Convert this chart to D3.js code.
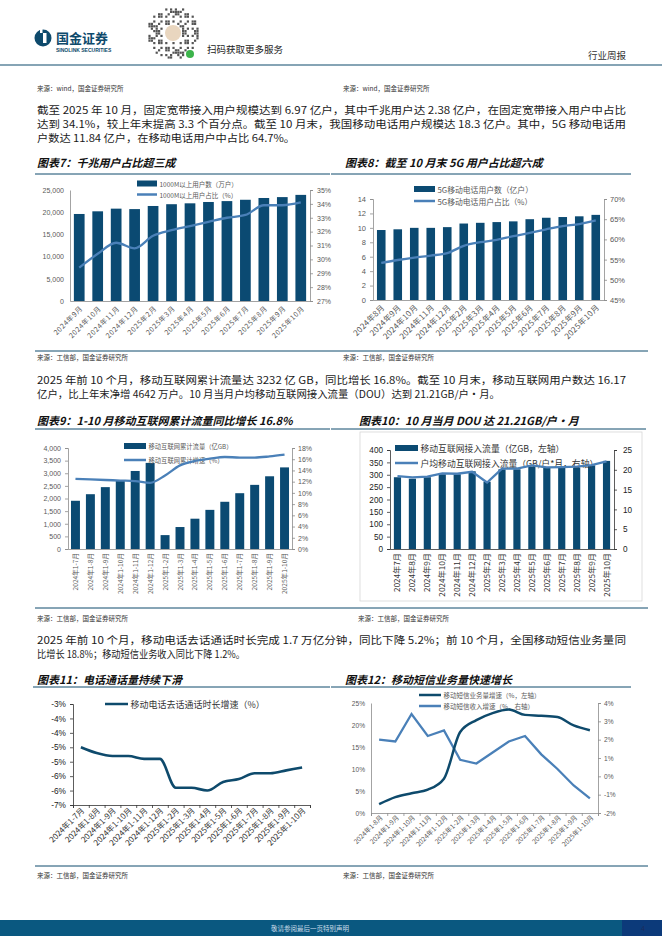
<!DOCTYPE html>
<html>
<head>
<meta charset="utf-8">
<script src="https://cdn.jsdelivr.net/npm/d3@7"></script>
<style>
  body { margin: 0; background: #fff; }
  svg { display: block; }
</style>
</head>
<body>
<div id="page"></div>
<script>
// ---- chart data ----
const c7Labels = ["2024年9月","2024年10月","2024年11月","2024年12月","2025年2月","2025年3月","2025年4月","2025年5月","2025年6月","2025年7月","2025年8月","2025年9月","2025年10月"];
const c7Users = [19600,20200,20800,20700,21400,21800,22000,22300,22500,22800,23200,23400,23900];
const c7Share = [29.4,30.4,31.2,30.8,31.7,32.1,32.4,32.7,33.0,33.2,33.9,33.9,34.1];

const c8Labels = ["2024年8月","2024年9月","2024年10月","2024年11月","2024年12月","2025年2月","2025年3月","2025年4月","2025年5月","2025年6月","2025年7月","2025年8月","2025年9月","2025年10月"];
const c8Users = [9.7,9.8,10.0,10.0,10.1,10.6,10.7,10.8,10.9,11.2,11.4,11.5,11.6,11.8];
const c8Share = [54.2,54.9,55.5,56.0,56.6,58.4,59.3,59.9,60.8,61.6,62.5,63.3,63.8,64.7];

const c9Labels = ["2024年1-7月","2024年1-8月","2024年1-9月","2024年1-10月","2024年1-11月","2024年1-12月","2025年1-2月","2025年1-3月","2025年1-4月","2025年1-5月","2025年1-6月","2025年1-7月","2025年1-8月","2025年1-9月","2025年1-10月"];
const c9Traffic = [1910,2170,2450,2720,3090,3410,550,870,1200,1550,1870,2210,2540,2880,3232];
const c9Growth = [12.5,12.4,12.3,12.2,12.1,11.8,13.1,14.9,15.7,16.1,16.4,16.3,16.3,16.5,16.8];

const c10Labels = ["2024年7月","2024年8月","2024年9月","2024年10月","2024年11月","2024年12月","2025年2月","2025年3月","2025年4月","2025年5月","2025年6月","2025年7月","2025年8月","2025年9月","2025年10月"];
const c10Traffic = [290,284,290,302,302,314,272,322,322,333,329,329,329,338,356];
const c10Dou = [18.4,18.1,18.3,19.1,19.0,19.5,16.8,20.3,20.3,21.1,20.6,20.7,20.8,21.2,22.1];

const c11Labels = ["2024年1-7月","2024年1-8月","2024年1-9月","2024年1-10月","2024年1-11月","2024年1-12月","2025年1-2月","2025年1-3月","2025年1-4月","2025年1-5月","2025年1-6月","2025年1-7月","2025年1-8月","2025年1-9月","2025年1-10月"];
const c11Growth = [-4.5,-4.7,-4.8,-4.8,-4.9,-4.9,-5.9,-5.9,-6.0,-5.7,-5.6,-5.4,-5.4,-5.3,-5.2];

const c12Labels = ["2024年1-8月","2024年1-9月","2024年1-10月","2024年1-11月","2024年1-12月","2025年1-2月","2025年1-3月","2025年1-4月","2025年1-5月","2025年1-6月","2025年1-7月","2025年1-8月","2025年1-9月","2025年1-10月"];
const c12Volume = [2.0,3.6,4.5,5.3,7.8,18.4,21.1,22.7,23.5,22.3,22.1,21.8,19.9,18.8];
const c12Revenue = [2.0,1.9,3.4,2.2,2.5,0.9,0.7,1.3,1.9,2.2,1.2,0.4,-0.5,-1.2];

// ---- page setup ----
const W = 662, H = 936;
const NAVY = "#0b4a72", LINE = "#4a80b8", DARK = "#0e4a6c";
const SANS = "'Noto Sans CJK SC','Noto Sans',sans-serif";
const NUM = "'Liberation Sans',Arial,sans-serif";

const svg = d3.select("#page").append("svg")
  .attr("width", W).attr("height", H)
  .attr("viewBox", [0, 0, W, H]);

function txt(x, y, s, size, o = {}) {
  const t = svg.append("text")
    .attr("x", x).attr("y", y)
    .attr("font-size", size)
    .attr("font-family", o.family || SANS)
    .attr("fill", o.fill || "#222")
    .text(s);
  if (o.anchor) t.attr("text-anchor", o.anchor);
  if (o.weight) t.attr("font-weight", o.weight);
  if (o.italic) t.attr("font-style", "italic");
  if (o.mid) t.attr("dominant-baseline", "central");
  if (o.len) t.attr("textLength", o.len).attr("lengthAdjust", "spacingAndGlyphs");
  return t;
}

function hline(x1, x2, y, color, w) {
  svg.append("line").attr("x1", x1).attr("x2", x2).attr("y1", y).attr("y2", y)
    .attr("stroke", color).attr("stroke-width", w);
}

// ---- header ----
svg.append("circle").attr("cx", 43).attr("cy", 38).attr("r", 8.5).attr("fill", DARK);
svg.append("rect").attr("x", 43).attr("y", 33).attr("width", 3.5).attr("height", 10).attr("fill", "#fff");
svg.append("rect").attr("x", 40).attr("y", 29).attr("width", 2.5).attr("height", 4).attr("fill", "#fff");
txt(56, 43, "国金证券", 13, { weight: 700, fill: DARK });
txt(56, 52, "SINOLINK SECURITIES", 5, { weight: 700, fill: DARK, family: NUM });

// QR-like decoration
const qr = svg.append("g");
for (let i = 0; i < 22; i++) {
  for (let j = 0; j < 22; j++) {
    const cx = 146 + i * 2.4, cy = 6 + j * 2.4;
    const dd = Math.hypot(cx - 172, cy - 32);
    if (dd < 26 && dd > 10 && ((i * 31 + j * 17 + i * j * 7) % 11) < 5)
      qr.append("rect").attr("x", cx).attr("y", cy).attr("width", 2.2).attr("height", 2.2).attr("fill", "#555");
  }
}
qr.append("circle").attr("cx", 173).attr("cy", 33).attr("r", 8).attr("fill", "#e9d6bf");
qr.append("circle").attr("cx", 190).attr("cy", 54).attr("r", 4).attr("fill", "#3cb44b");
txt(207, 53, "扫码获取更多服务", 9.5, { fill: "#222" });
txt(626, 59, "行业周报", 9.5, { anchor: "end", fill: "#333" });
hline(0, W, 65, DARK, 1.2);

// ---- paragraphs ----
const PF = 10.3, PC = "#1a1a1a";
txt(37, 91, "来源：wind，国金证券研究所", 6.5, { fill: "#333" });
txt(343, 91, "来源：wind，国金证券研究所", 6.5, { fill: "#333" });
txt(37, 114, "截至 2025 年 10 月，固定宽带接入用户规模达到 6.97 亿户，其中千兆用户达 2.38 亿户，在固定宽带接入用户中占比", PF, { fill: PC, len: 589 });
txt(37, 128, "达到 34.1%，较上年末提高 3.3 个百分点。截至 10 月末，我国移动电话用户规模达 18.3 亿户。其中，5G 移动电话用", PF, { fill: PC, len: 589 });
txt(37, 142, "户数达 11.84 亿户，在移动电话用户中占比 64.7%。", PF, { fill: PC, len: 258 });

txt(37, 167, "图表7：千兆用户占比超三成", 11, { weight: 700, italic: true, fill: "#111" });
txt(345, 167, "图表8：截至 10 月末 5G 用户占比超六成", 11, { weight: 700, italic: true, fill: "#111" });
hline(35, 330, 174, DARK, 1);
hline(331, 631, 174, DARK, 1);

hline(35, 648, 351, DARK, 1);
txt(37, 360, "来源：工信部，国金证券研究所", 6.5, { fill: "#333" });
txt(343, 360, "来源：工信部，国金证券研究所", 6.5, { fill: "#333" });
txt(37, 384, "2025 年前 10 个月，移动互联网累计流量达 3232 亿 GB，同比增长 16.8%。截至 10 月末，移动互联网用户数达 16.17", PF, { fill: PC, len: 589 });
txt(37, 398, "亿户，比上年末净增 4642 万户。10 月当月户均移动互联网接入流量（DOU）达到 21.21GB/户·月。", PF, { fill: PC, len: 463 });

txt(37, 425, "图表9：1-10 月移动互联网累计流量同比增长 16.8%", 11, { weight: 700, italic: true, fill: "#111" });
txt(359, 425, "图表10：10 月当月 DOU 达 21.21GB/户·月", 11, { weight: 700, italic: true, fill: "#111" });
hline(35, 330, 429, DARK, 1);
hline(331, 646, 429, DARK, 1);

hline(35, 648, 608, DARK, 1);
txt(37, 621, "来源：工信部，国金证券研究所", 6.5, { fill: "#333" });
txt(358, 621, "来源：工信部，国金证券研究所", 6.5, { fill: "#333" });
txt(37, 644, "2025 年前 10 个月，移动电话去话通话时长完成 1.7 万亿分钟，同比下降 5.2%；前 10 个月，全国移动短信业务量同", PF, { fill: PC, len: 589 });
txt(37, 658, "比增长 18.8%；移动短信业务收入同比下降 1.2%。", PF, { fill: PC, len: 208 });

txt(37, 684, "图表11：电话通话量持续下滑", 11, { weight: 700, italic: true, fill: "#111" });
txt(345, 684, "图表12：移动短信业务量快速增长", 11, { weight: 700, italic: true, fill: "#111" });
hline(33, 330, 687, DARK, 1);
hline(331, 631, 687, DARK, 1);

hline(35, 648, 866, DARK, 1);
txt(37, 878, "来源：工信部，国金证券研究所", 6.5, { fill: "#333" });
txt(343, 878, "来源：工信部，国金证券研究所", 6.5, { fill: "#333" });

// footer band
svg.append("rect").attr("x", 0).attr("y", 920).attr("width", W).attr("height", 16).attr("fill", "#0a5880");
svg.append("rect").attr("x", 622).attr("y", 920).attr("width", 40).attr("height", 16).attr("fill", "#0c3a7a");
txt(310, 931, "敬请参阅最后一页特别声明", 6.5, { anchor: "middle", fill: "#c9dbe8" });
txt(643, 931, "4", 7, { anchor: "middle", fill: "#1c2c5c", family: NUM });

// chart 10 frame
svg.append("rect").attr("x", 360).attr("y", 432).attr("width", 282).attr("height", 169)
  .attr("fill", "none").attr("stroke", "#d6d6d6").attr("stroke-width", 0.8);

// ---- helpers ----
function styleAxis(g, o) {
  g.select(".domain").attr("stroke", o.axisColor || "#8c8c8c").attr("stroke-width", 0.8);
  g.selectAll(".tick line").attr("stroke", o.axisColor || "#8c8c8c").attr("stroke-width", 0.8);
  g.selectAll(".tick text").attr("fill", o.textColor || "#595959")
    .attr("font-size", o.fs || 7).attr("font-family", NUM);
}

function xLabels(g, labels, cx, o) {
  g.append("g").selectAll("text").data(labels).join("text")
    .attr("transform", d => `translate(${cx(d) + o.dx},${o.y}) rotate(${o.rot})`)
    .attr("text-anchor", "end")
    .attr("font-size", o.fs)
    .attr("font-family", o.family || SANS)
    .attr("letter-spacing", o.ls || 0)
    .attr("fill", o.fill || "#595959")
    .text(d => d);
}

function legendBar(g, x, y, label, o) {
  g.append("rect").attr("x", x).attr("y", y - 3).attr("width", o.w).attr("height", 6).attr("fill", NAVY);
  g.append("text").attr("x", x + o.w + 2.5).attr("y", y).attr("dominant-baseline", "central")
    .attr("font-size", o.fs).attr("font-family", SANS).attr("fill", o.fill || "#595959").text(label);
}

function legendLine(g, x, y, label, color, o) {
  g.append("line").attr("x1", x).attr("x2", x + o.w).attr("y1", y).attr("y2", y)
    .attr("stroke", color).attr("stroke-width", 2.5);
  g.append("text").attr("x", x + o.w + 2.5).attr("y", y).attr("dominant-baseline", "central")
    .attr("font-size", o.fs).attr("font-family", SANS).attr("fill", o.fill || "#595959").text(label);
}

function barLineChart(o) {
  const g = svg.append("g");
  const x = d3.scaleBand().domain(o.labels).range([o.left, o.right])
    .paddingInner(o.pad).paddingOuter(o.pad / 2);
  const yL = d3.scaleLinear().domain(o.leftDomain).range([o.bottom, o.top]);
  const yR = d3.scaleLinear().domain(o.rightDomain).range([o.bottom, o.top]);
  const cx = d => x(d) + x.bandwidth() / 2;

  g.append("g").selectAll("rect").data(o.bars).join("rect")
    .attr("x", (d, i) => x(o.labels[i]))
    .attr("y", d => yL(d))
    .attr("width", x.bandwidth())
    .attr("height", d => o.bottom - yL(d))
    .attr("fill", NAVY);

  const axL = g.append("g").attr("transform", `translate(${o.left},0)`)
    .call(d3.axisLeft(yL).tickValues(o.leftTicks).tickFormat(o.leftFmt).tickSizeOuter(0)
      .tickSize(o.tickL).tickPadding(o.padL));
  styleAxis(axL, o);
  const axR = g.append("g").attr("transform", `translate(${o.right},0)`)
    .call(d3.axisRight(yR).tickValues(o.rightTicks).tickFormat(o.rightFmt).tickSizeOuter(0)
      .tickSize(o.tickR).tickPadding(o.padR));
  styleAxis(axR, o);
  const axB = g.append("g").attr("transform", `translate(0,${o.bottom})`)
    .call(d3.axisBottom(x).tickSize(0).tickFormat(""));
  styleAxis(axB, o);

  legendBar(g, o.legX, o.legY1, o.barName, o.leg);
  legendLine(g, o.legX, o.legY2, o.lineName, LINE, o.leg);

  const line = d3.line().x((d, i) => cx(o.labels[i])).y(d => yR(d)).curve(o.curve);
  g.append("path").attr("d", line(o.line)).attr("fill", "none")
    .attr("stroke", LINE).attr("stroke-width", 2.3);

  xLabels(g, o.labels, cx, o.xl);
}

// ---- chart 7 ----
barLineChart({
  labels: c7Labels, bars: c7Users, line: c7Share,
  left: 70, right: 310, top: 190, bottom: 301, pad: 0.42,
  leftDomain: [0, 25000], leftTicks: d3.range(0, 25001, 5000), leftFmt: d3.format(","),
  rightDomain: [27, 35], rightTicks: d3.range(27, 36, 1), rightFmt: d => d + "%",
  tickL: 0, padL: 6, tickR: 3, padR: 4, fs: 7,
  legX: 137, legY1: 183.5, legY2: 194.5,
  barName: "1000M以上用户数（万户）", lineName: "1000M以上用户占比（%）",
  leg: { w: 20, fs: 6.5 },
  curve: d3.curveMonotoneX,
  xl: { rot: -45, dx: 4, y: 309, fs: 7, ls: 0.6 }
});

// ---- chart 8 ----
barLineChart({
  labels: c8Labels, bars: c8Users, line: c8Share,
  left: 373, right: 604, top: 199, bottom: 300, pad: 0.48,
  leftDomain: [0, 14], leftTicks: d3.range(0, 15, 2), leftFmt: d => d,
  rightDomain: [45, 70], rightTicks: d3.range(45, 71, 5), rightFmt: d => d + "%",
  tickL: 3, padL: 4, tickR: 3, padR: 3, fs: 7.5,
  legX: 414, legY1: 189, legY2: 201,
  barName: "5G移动电话用户数（亿户）", lineName: "5G移动电话用户占比（%）",
  leg: { w: 21, fs: 7.8 },
  curve: d3.curveMonotoneX,
  xl: { rot: -45, dx: 4, y: 308, fs: 8, ls: 0.3 }
});

// ---- chart 9 ----
barLineChart({
  labels: c9Labels, bars: c9Traffic, line: c9Growth,
  left: 68, right: 292, top: 448, bottom: 549, pad: 0.4,
  leftDomain: [0, 4000], leftTicks: d3.range(0, 4001, 500), leftFmt: d3.format(","),
  rightDomain: [0, 18], rightTicks: d3.range(0, 19, 2), rightFmt: d => d + "%",
  tickL: 3, padL: 4, tickR: 3, padR: 3, fs: 7,
  legX: 124, legY1: 446, legY2: 460,
  barName: "移动互联网累计流量（亿GB）", lineName: "移动互联网累计增速（%）",
  leg: { w: 22, fs: 6.3 },
  curve: d3.curveMonotoneX,
  xl: { rot: -90, dx: 2.5, y: 553, fs: 6.6 }
});

// ---- chart 10 ----
barLineChart({
  labels: c10Labels, bars: c10Traffic, line: c10Dou,
  left: 390, right: 614, top: 450, bottom: 549, pad: 0.52,
  leftDomain: [0, 400], leftTicks: d3.range(0, 401, 50), leftFmt: d => d,
  rightDomain: [0, 25], rightTicks: d3.range(0, 26, 5), rightFmt: d => d,
  tickL: 3, padL: 4, tickR: 3, padR: 6, fs: 8.2, axisColor: "#333", textColor: "#222",
  legX: 395, legY1: 448, legY2: 463,
  barName: "移动互联网接入流量（亿GB，左轴）", lineName: "户均移动互联网接入流量（GB/户*月，右轴）",
  leg: { w: 23, fs: 8.8, fill: "#333" },
  curve: d3.curveLinear,
  xl: { rot: -90, dx: 3, y: 553, fs: 8.2, fill: "#333" }
});

// ---- chart 11 ----
(function () {
  const g = svg.append("g");
  const left = 73, right = 310, top = 704, bottom = 805;
  const x = d3.scaleBand().domain(c11Labels).range([left, right]);
  const xb = d3.scaleLinear().domain([0, c11Labels.length]).range([left, right]);
  const y = d3.scaleLinear().domain([-6.5, -3]).range([bottom, top]);
  const cx = d => x(d) + x.bandwidth() / 2;
  const fmt = v => (v < 0 ? -Math.round(-v) : Math.round(v)) + "%";

  const axL = g.append("g").attr("transform", `translate(${left},0)`)
    .call(d3.axisLeft(y).tickValues(d3.range(-6.5, -2.99, 0.5)).tickFormat(fmt).tickSizeOuter(0).tickSize(3).tickPadding(4));
  styleAxis(axL, { axisColor: "#333", textColor: "#222", fs: 8.3 });
  const axB = g.append("g").attr("transform", `translate(0,${bottom})`)
    .call(d3.axisBottom(xb).tickValues(d3.range(0, c11Labels.length + 1)).tickFormat("").tickSizeOuter(0).tickSize(3));
  styleAxis(axB, { axisColor: "#333" });

  legendLine(g, 105, 704, "移动电话去话通话时长增速（%）", DARK, { w: 23, fs: 9, fill: "#333" });

  const line = d3.line().x((d, i) => cx(c11Labels[i])).y(d => y(d)).curve(d3.curveMonotoneX);
  g.append("path").attr("d", line(c11Growth)).attr("fill", "none")
    .attr("stroke", DARK).attr("stroke-width", 2.6);

  xLabels(g, c11Labels, cx, { rot: -45, dx: 4, y: 811, fs: 8, fill: "#333" });
})();

// ---- chart 12 ----
(function () {
  const g = svg.append("g");
  const left = 371, right = 598, top = 703, bottom = 813;
  const x = d3.scaleBand().domain(c12Labels).range([left, right]);
  const xb = d3.scaleLinear().domain([0, c12Labels.length]).range([left, right]);
  const yL = d3.scaleLinear().domain([0, 25]).range([bottom, top]);
  const yR = d3.scaleLinear().domain([-2, 4]).range([bottom, top]);
  const cx = d => x(d) + x.bandwidth() / 2;

  const axL = g.append("g").attr("transform", `translate(${left},0)`)
    .call(d3.axisLeft(yL).tickValues(d3.range(0, 26, 5)).tickFormat(d => d + "%").tickSizeOuter(0).tickSize(0).tickPadding(6));
  styleAxis(axL, { fs: 6.6 });
  const axR = g.append("g").attr("transform", `translate(${right},0)`)
    .call(d3.axisRight(yR).tickValues(d3.range(-2, 5, 1)).tickFormat(d => d + "%").tickSizeOuter(0).tickSize(3).tickPadding(3));
  styleAxis(axR, { fs: 6.6 });
  const axB = g.append("g").attr("transform", `translate(0,${bottom})`)
    .call(d3.axisBottom(xb).tickValues(d3.range(0, c12Labels.length + 1)).tickFormat("").tickSizeOuter(0).tickSize(3));
  styleAxis(axB, {});

  legendLine(g, 419, 695, "移动短信业务量增速（%，左轴）", DARK, { w: 22, fs: 6.5 });
  legendLine(g, 419, 706, "移动短信收入增速（%，右轴）", LINE, { w: 22, fs: 6.5 });

  const lineL = d3.line().x((d, i) => cx(c12Labels[i])).y(d => yL(d)).curve(d3.curveMonotoneX);
  const lineR = d3.line().x((d, i) => cx(c12Labels[i])).y(d => yR(d)).curve(d3.curveLinear);
  g.append("path").attr("d", lineR(c12Revenue)).attr("fill", "none")
    .attr("stroke", LINE).attr("stroke-width", 2.3);
  g.append("path").attr("d", lineL(c12Volume)).attr("fill", "none")
    .attr("stroke", DARK).attr("stroke-width", 2.5);

  xLabels(g, c12Labels, cx, { rot: -45, dx: 4, y: 818, fs: 6.6 });
})();
</script>
</body>
</html>
